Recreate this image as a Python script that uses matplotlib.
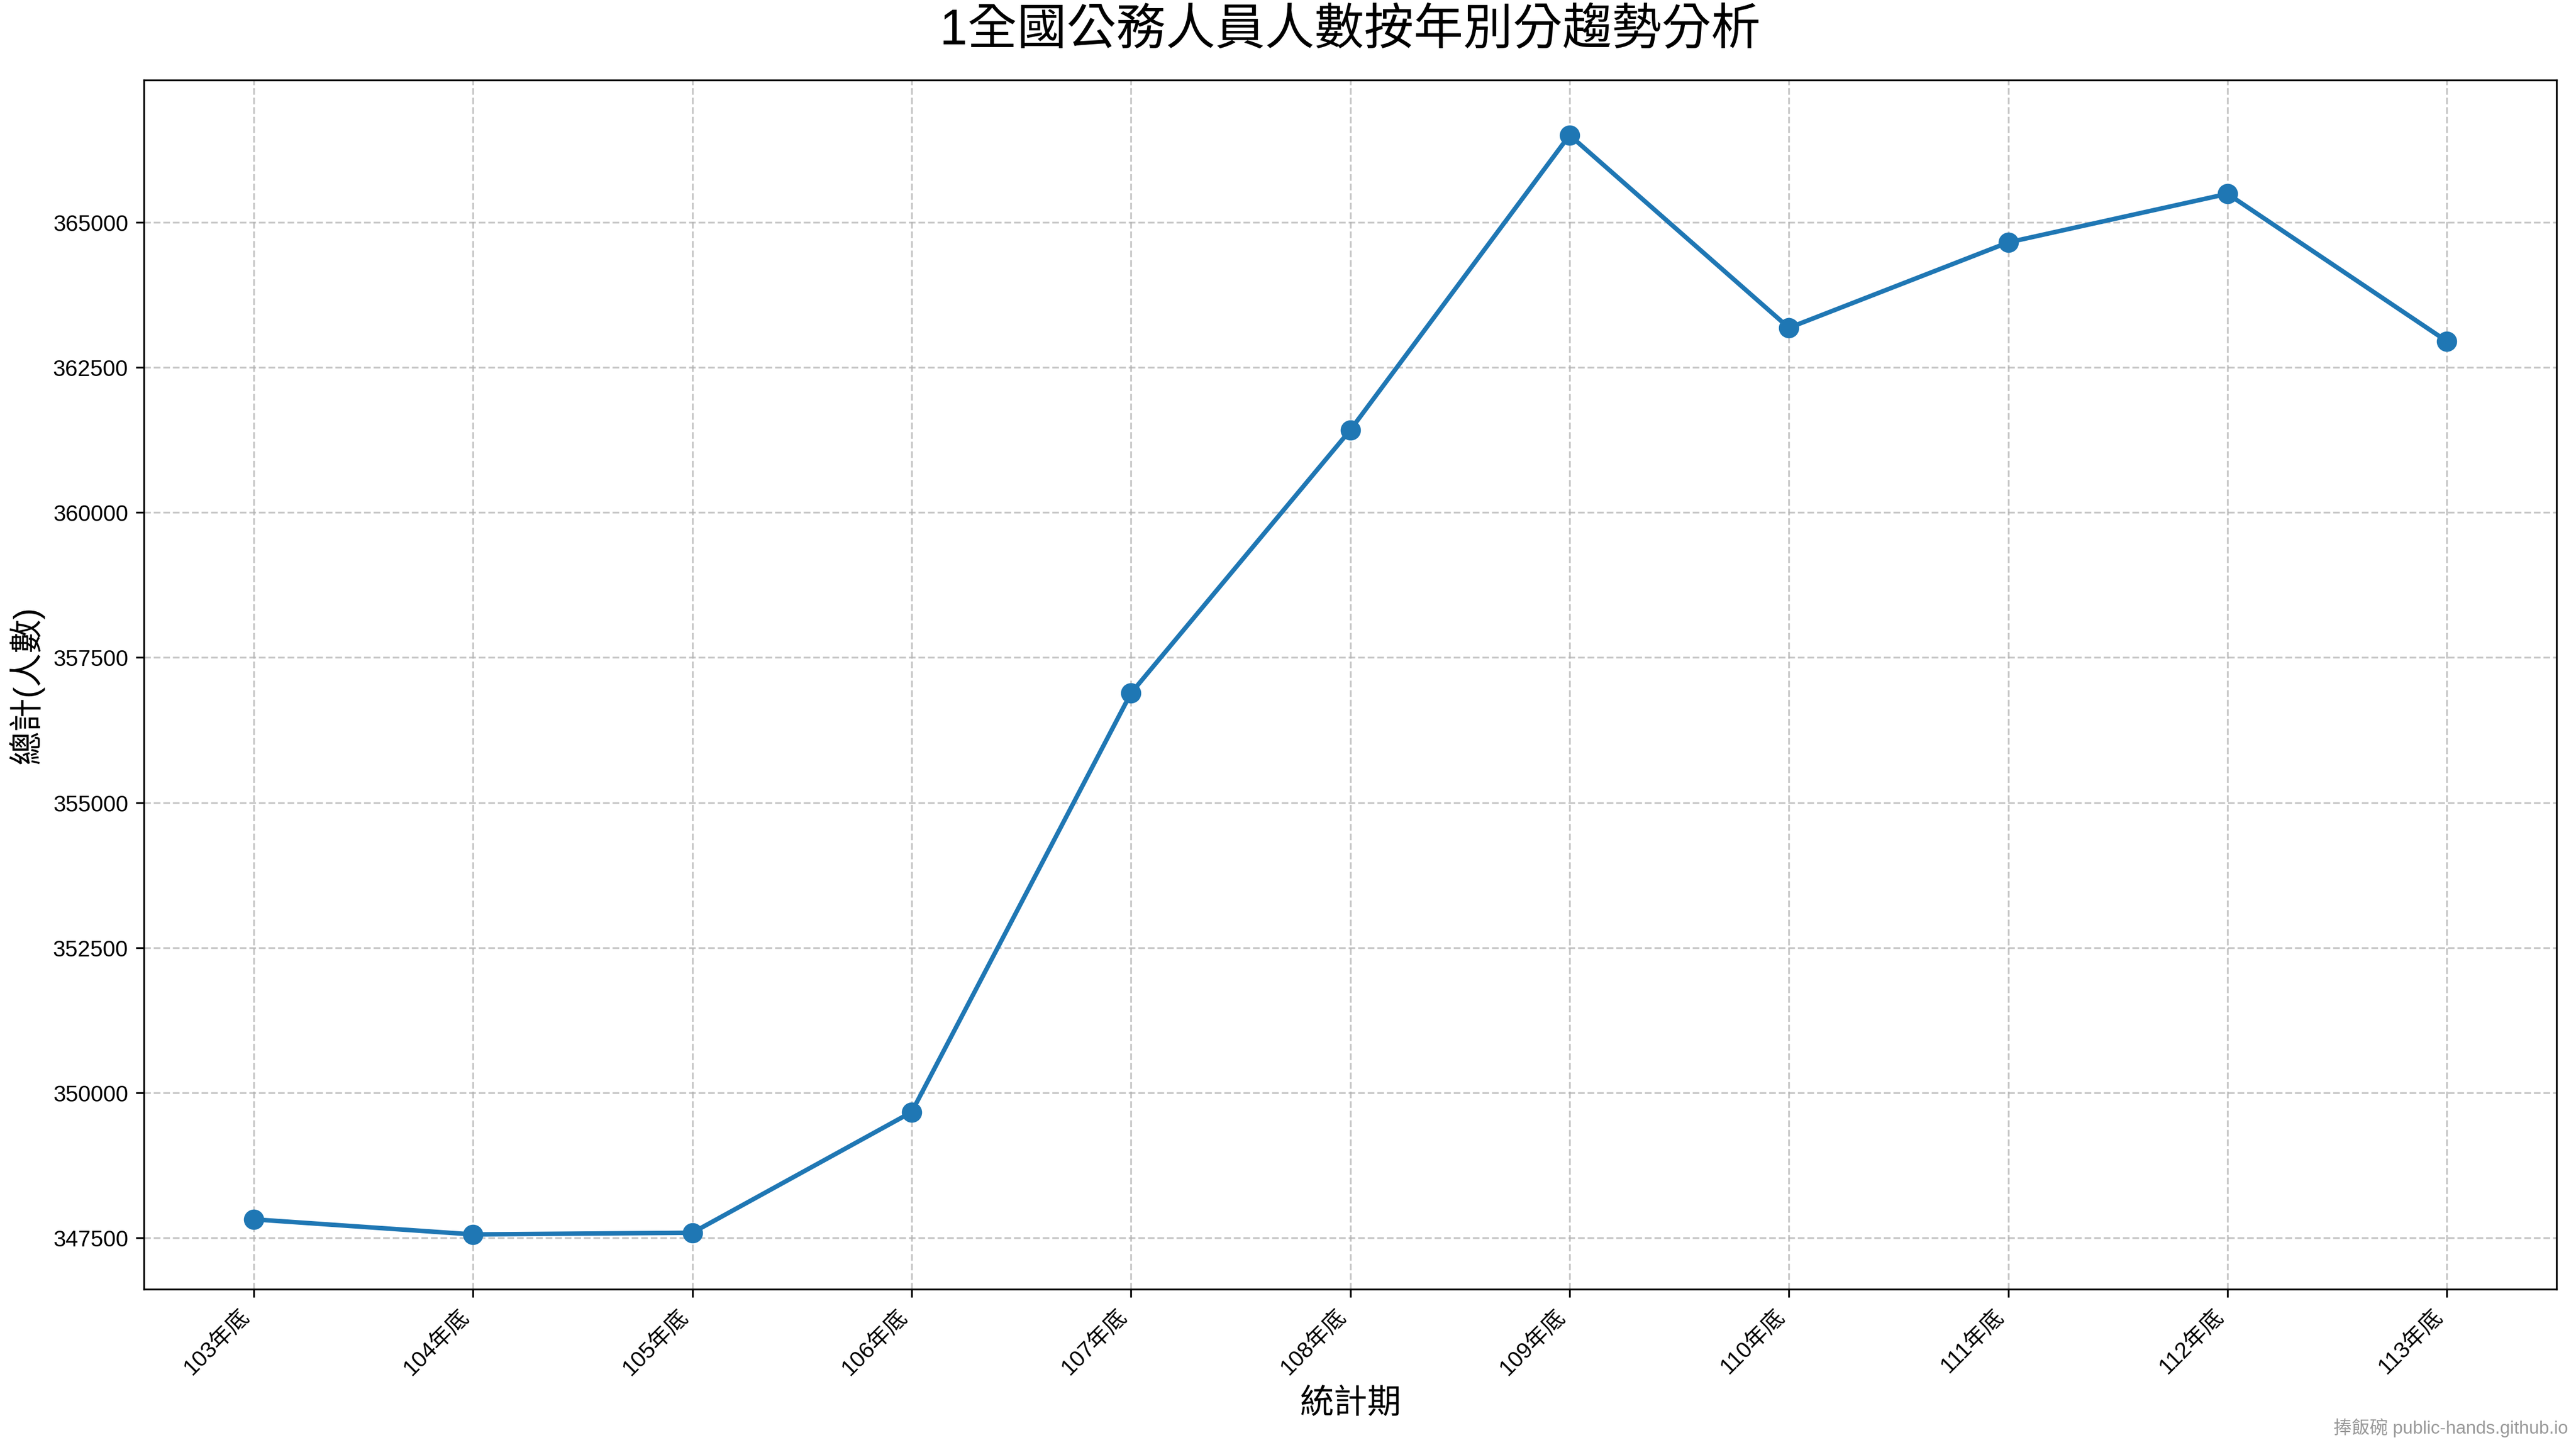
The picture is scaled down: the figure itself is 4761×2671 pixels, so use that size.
import matplotlib
matplotlib.use("Agg")
import matplotlib.pyplot as plt

plt.rcParams['font.family'] = ['Liberation Sans', 'Noto Sans CJK TC', 'DejaVu Sans']

periods = ['103年底', '104年底', '105年底', '106年底', '107年底', '108年底',
           '109年底', '110年底', '111年底', '112年底', '113年底']
totals = [347818, 347558, 347587, 349666, 356885, 361419,
          366502, 363181, 364653, 365491, 362950]

fig, ax = plt.subplots(figsize=(16, 9), dpi=300)
ax.plot(periods, totals, marker='o', color='#1f77b4', linewidth=2, markersize=8)
ax.set_title('1全國公務人員人數按年別分趨勢分析', fontsize=22, pad=16)
ax.set_xlabel('統計期', fontsize=15)
ax.set_ylabel('總計(人數)', fontsize=15)
ax.grid(True, linestyle='--', alpha=0.7)
plt.setp(ax.get_xticklabels(), rotation=45, ha='right')
fig.text(0.995, 0.005, '捧飯碗 public-hands.github.io', ha='right', va='bottom',
         fontsize=8, color='gray', alpha=0.8)
fig.tight_layout()
fig.savefig('out.png', dpi=300, bbox_inches='tight', pad_inches=0.05)
